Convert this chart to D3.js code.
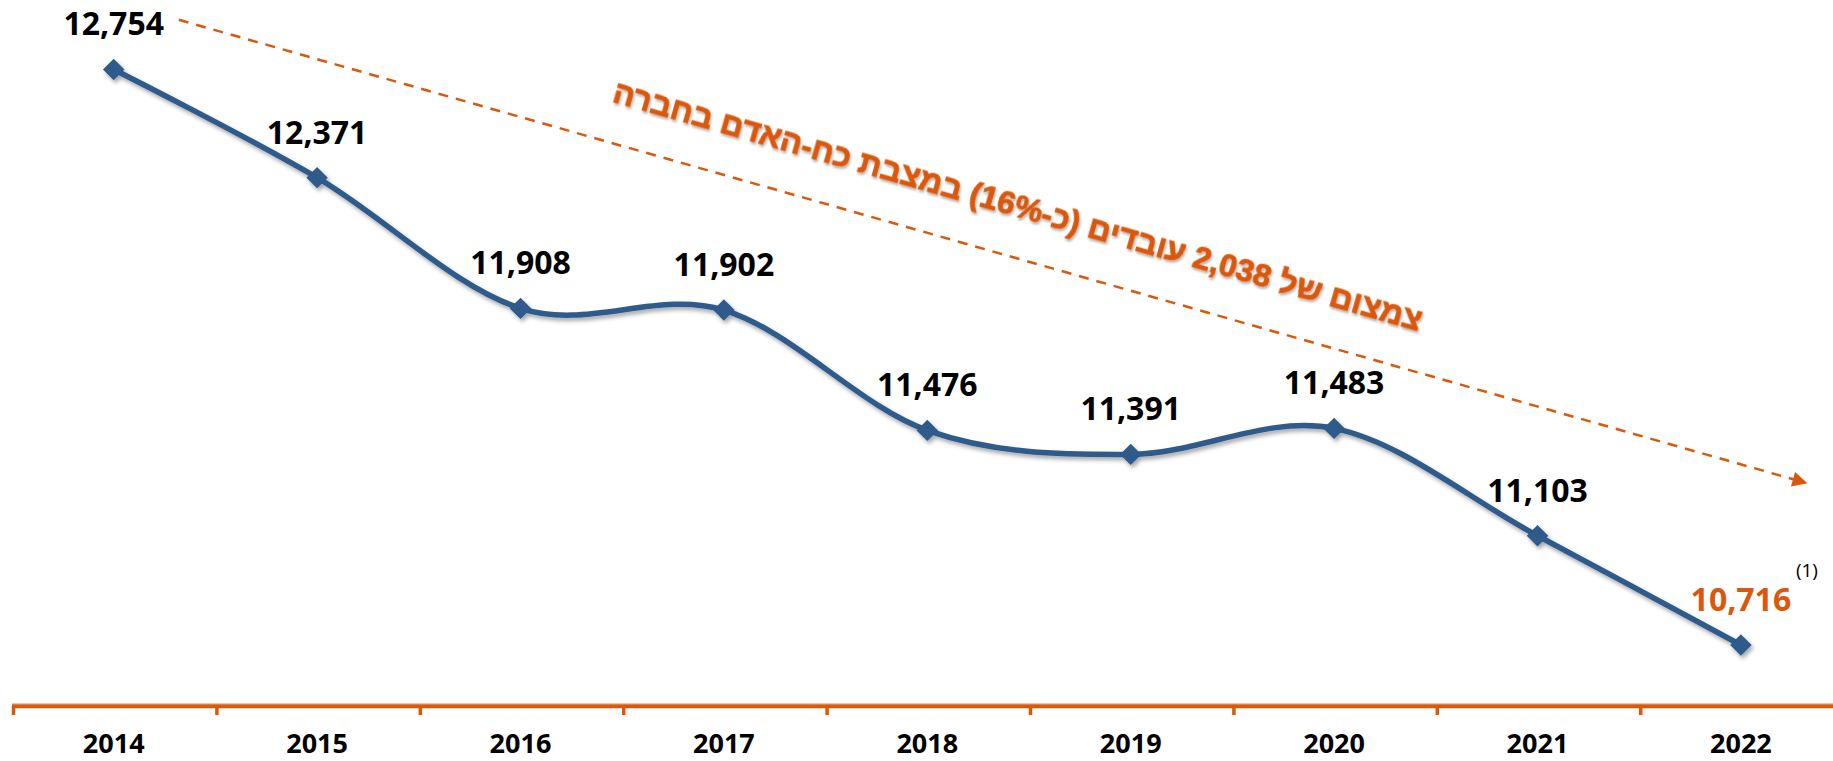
<!DOCTYPE html>
<html>
<head>
<meta charset="utf-8">
<script src="https://cdnjs.cloudflare.com/ajax/libs/d3/7.8.5/d3.min.js"></script>
<style>
body{margin:0;background:#ffffff;}
svg{display:block;}
text{font-family:"Open Sans","Liberation Sans",sans-serif;}
</style>
</head>
<body>
<svg id="chart" width="1833" height="761"></svg>
<script>
var years = ["2014", "2015", "2016", "2017", "2018", "2019", "2020", "2021", "2022"];
var employees = [12754, 12371, 11908, 11902, 11476, 11391, 11483, 11103, 10716];
var yDomain = [10500, 13000];
// trend arrow: values at the first and last year (shifted right a bit)
var trendValues = [12930, 11290];
var trendText = "צמצום של 2,038 עובדים (כ-16%) במצבת כח-האדם בחברה";
var footnote = "(1)";

var blue = "#2d5a8c";
var orange = "#d9580b";

var svg = d3.select("#chart");
var W = 1833, H = 761;
var axisY = 706;

var x = d3.scaleBand().domain(years).range([12, 12 + 9 * 203.4]).padding(0);
var y = d3.scaleLinear().domain(yDomain).range([axisY, 0]);
function cx(yr){ return x(yr) + x.bandwidth() / 2; }

var defs = svg.append("defs");
var sh = defs.append("filter").attr("id", "shadow").attr("x", "-10%").attr("y", "-10%").attr("width", "130%").attr("height", "140%");
sh.append("feDropShadow").attr("dx", 2).attr("dy", 3).attr("stdDeviation", 2).attr("flood-color", "#000").attr("flood-opacity", 0.35);
var sh2 = defs.append("filter").attr("id", "txtShadow").attr("x", "-5%").attr("y", "-20%").attr("width", "110%").attr("height", "150%");
sh2.append("feDropShadow").attr("dx", 1.5).attr("dy", 2).attr("stdDeviation", 1.2).attr("flood-color", "#000").attr("flood-opacity", 0.3);
defs.append("marker").attr("id", "arrowHead").attr("viewBox", "0 0 10 10").attr("refX", 9).attr("refY", 5)
	.attr("markerWidth", 7).attr("markerHeight", 6).attr("markerUnits", "strokeWidth").attr("orient", "auto")
	.append("path").attr("d", "M0,0 L10,5 L0,10 Z").attr("fill", orange);

// axis (ticks between categories)
var axisG = svg.append("g").attr("class", "axis");
axisG.append("line").attr("x1", x(years[0])).attr("x2", W).attr("y1", axisY).attr("y2", axisY)
	.attr("stroke", orange).attr("stroke-width", 4.5);
axisG.append("line").attr("x1", x(years[0])).attr("x2", W).attr("y1", axisY - 2).attr("y2", axisY - 2)
	.attr("stroke", "#f2a878").attr("stroke-width", 1);
axisG.selectAll(".tick").data(years).enter().append("line").attr("class", "tick")
	.attr("x1", function(d){ return x(d) + 1.5; }).attr("x2", function(d){ return x(d) + 1.5; })
	.attr("y1", axisY).attr("y2", axisY + 9)
	.attr("stroke", orange).attr("stroke-width", 3.5);
axisG.selectAll(".yr").data(years).enter().append("text").attr("class", "yr")
	.attr("x", function(d){ return cx(d); }).attr("y", 753)
	.attr("text-anchor", "middle").attr("font-size", 27).attr("font-weight", "bold").attr("fill", "#000")
	.text(function(d){ return d; });

// trend arrow
var t0 = [cx(years[0]) + 0.32 * x.bandwidth(), y(trendValues[0])];
var t1 = [cx(years[8]) + 0.32 * x.bandwidth(), y(trendValues[1])];
svg.append("line").attr("x1", t0[0]).attr("y1", t0[1]).attr("x2", t1[0]).attr("y2", t1[1])
	.attr("stroke", orange).attr("stroke-width", 2.5).attr("stroke-dasharray", "10,8")
	.attr("marker-end", "url(#arrowHead)");

var ang = Math.atan2(t1[1] - t0[1], t1[0] - t0[0]);
var mx = (t0[0] + t1[0]) / 2, my = (t0[1] + t1[1]) / 2;
var along = 12, off = 40;
var tx = mx + along * Math.cos(ang) + off * Math.sin(ang);
var ty = my + along * Math.sin(ang) - off * Math.cos(ang);
svg.append("text").attr("transform", "translate(" + tx + "," + ty + ") rotate(" + (ang * 180 / Math.PI) + ")")
	.attr("text-anchor", "middle").attr("direction", "rtl")
	.style("font-family", "'Liberation Sans','DejaVu Sans',sans-serif")
	.attr("font-size", 32).attr("font-weight", "bold").attr("fill", orange)
	.attr("stroke", orange).attr("stroke-width", 0.9)
	.attr("filter", "url(#txtShadow)")
	.text(trendText);

// line + markers
var pts = years.map(function(d, i){ return [cx(d), y(employees[i])]; });
var lineGen = d3.line().curve(d3.curveCardinal.tension(0));
var lineG = svg.append("g").attr("filter", "url(#shadow)");
lineG.append("path").attr("d", lineGen(pts)).attr("fill", "none").attr("stroke", blue).attr("stroke-width", 5.5);
var sym = d3.symbol().type(d3.symbolSquare).size(230);
lineG.selectAll(".mk").data(pts).enter().append("path").attr("class", "mk")
	.attr("d", sym).attr("fill", blue)
	.attr("transform", function(d){ return "translate(" + d[0] + "," + d[1] + ") rotate(45)"; });

// value labels
svg.selectAll(".val").data(employees).enter().append("text").attr("class", "val")
	.attr("x", function(d, i){ return cx(years[i]); })
	.attr("y", function(d){ return y(d) - 34; })
	.attr("text-anchor", "middle").attr("font-size", 32).attr("font-weight", "bold")
	.attr("fill", function(d, i){ return i == employees.length - 1 ? orange : "#000"; })
	.text(function(d){ return d3.format(",")(d); });

svg.append("text").attr("x", cx(years[8]) + 55).attr("y", y(employees[8]) - 68)
	.attr("font-size", 19).attr("fill", "#000").text(footnote);
</script>
</body>
</html>
